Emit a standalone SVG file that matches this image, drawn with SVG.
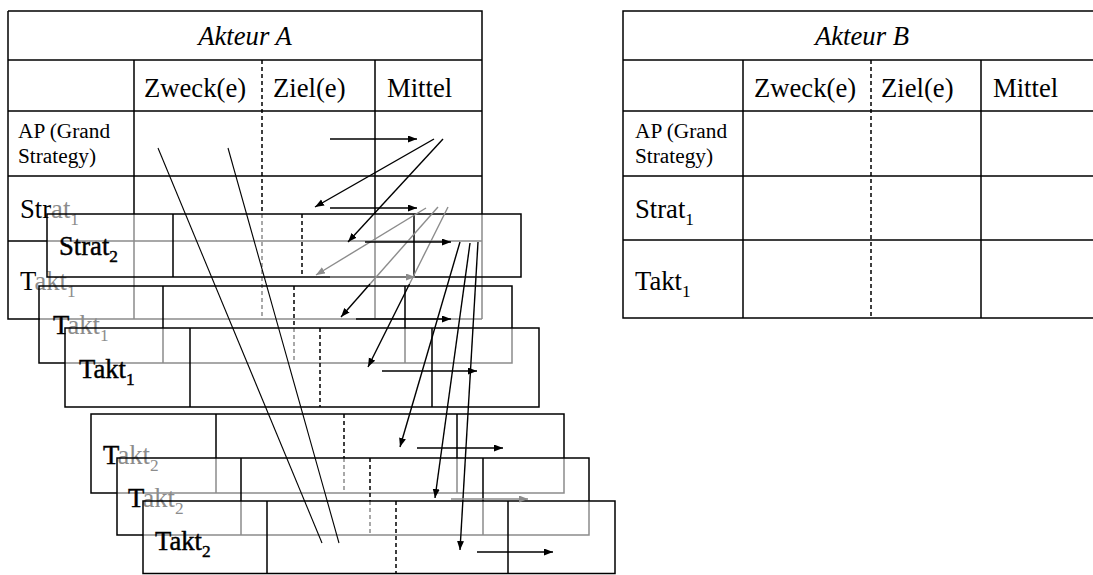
<svg xmlns="http://www.w3.org/2000/svg" width="1093" height="575" viewBox="0 0 1093 575">
  <defs>
    <style>
      .ln { stroke: #000; stroke-width: 1.5; fill: none; }
      .gl { stroke: #8c8c8c; stroke-width: 1.5; fill: none; }
      .dash { stroke-dasharray: 4 3; }
      .t { font-size: 26.67px; fill: #000; }
      .it { font-style: italic; }
      .sm { font-size: 21.3px; }
      .sub { font-size: 17.3px; }
      .bl { stroke: #000; stroke-width: 0.45; }
      .gt { fill: #8c8c8c; stroke: none; }
      .ar { stroke: #000; stroke-width: 1.4; fill: none; }
      .arh { marker-end: url(#head); }
      .ag { stroke: #8c8c8c; stroke-width: 1.4; fill: none; }
      .agh { marker-end: url(#head-grey); }
      .thin { stroke: #000; stroke-width: 1.1; fill: none; }
    </style>
    <marker id="head" markerUnits="userSpaceOnUse" markerWidth="10" markerHeight="8" refX="9" refY="3.5" orient="auto">
      <path d="M0,0L9,3.5L0,7Z" fill="#000"/>
    </marker>
    <marker id="head-grey" markerUnits="userSpaceOnUse" markerWidth="10" markerHeight="8" refX="9" refY="3.5" orient="auto">
      <path d="M0,0L9,3.5L0,7Z" fill="#8c8c8c"/>
    </marker>
  </defs>

  <rect width="1093" height="575" fill="#fff"/>

  <g font-family="'Liberation Serif', 'Times New Roman', serif">
  <!-- Actor A: base table -->
  <g id="akteur-a">
    <path class="ln" d="M8,11H482V214 M8,11V319H40 M8,60H482 M8,111H482 M8,176H482 M8,241H47 M134,60V214 M375,60V214"/>
    <path class="ln dash" d="M262,60V214"/>
    <path class="gl" d="M482,214V319 M40,319H482 M47,241H482 M134,214V319 M375,214V319"/>
    <path class="gl dash" d="M262,214V319"/>
    <text class="t it" x="245" y="45" text-anchor="middle">Akteur A</text>
    <text class="t" x="144" y="97">Zweck(e)</text>
    <text class="t" x="273" y="97">Ziel(e)</text>
    <text class="t" x="387" y="97">Mittel</text>
    <text class="t sm" x="18" y="138">AP (Grand</text>
    <text class="t sm" x="18" y="163">Strategy)</text>
    <text class="t" x="20" y="218">Str<tspan class="gt">at</tspan><tspan class="gt sub" dy="7">1</tspan></text>
    <text class="t" x="20" y="290">T<tspan class="gt">akt</tspan><tspan class="gt sub" dy="7">1</tspan></text>
  </g>

  <!-- Actor B: base table (continues past the right edge) -->
  <g id="akteur-b">
    <path class="ln" d="M1100,11H623V318H1100 M623,60H1100 M623,111H1100 M623,176H1100 M623,240H1100 M743,60V318 M981,60V318"/>
    <path class="ln dash" d="M871,60V318"/>
    <text class="t it" x="862" y="45" text-anchor="middle">Akteur B</text>
    <text class="t" x="754" y="97">Zweck(e)</text>
    <text class="t" x="881" y="97">Ziel(e)</text>
    <text class="t" x="993" y="97">Mittel</text>
    <text class="t sm" x="635" y="138">AP (Grand</text>
    <text class="t sm" x="635" y="163">Strategy)</text>
    <text class="t" x="635" y="218">Strat<tspan class="sub" dy="7">1</tspan></text>
    <text class="t" x="635" y="290">Takt<tspan class="sub" dy="7">1</tspan></text>
  </g>

  <!-- Strat 2 row -->
  <g id="strat-2">
    <path class="ln" d="M47,214H521V277H47Z M173,214V277 M414,214V277"/>
    <path class="ln dash" d="M302,214V277"/>
    <text class="t bl" x="59" y="255">Strat<tspan class="sub" dy="7">2</tspan></text>
  </g>

  <!-- Takt 1 rows -->
  <g id="takt-1a">
    <path class="ln" d="M65,363H39V286H512V328 M163,286V328 M405,286V328"/>
    <path class="ln dash" d="M294,286V328"/>
    <path class="gl" d="M65,363H512V328 M163,328V363 M405,328V363"/>
    <path class="gl dash" d="M294,328V363"/>
    <text class="t bl" x="53" y="334">T<tspan class="gt">akt</tspan><tspan class="gt sub" dy="7">1</tspan></text>
  </g>
  <g id="takt-1b">
    <path class="ln" d="M65,328H539V407H65Z M190,328V407 M432,328V407"/>
    <path class="ln dash" d="M320,328V407"/>
    <text class="t bl" x="79" y="378">Takt<tspan class="sub" dy="7">1</tspan></text>
  </g>

  <!-- Takt 2 rows -->
  <g id="takt-2a">
    <path class="ln" d="M117,493H91V414H564V458 M216,414V458 M457,414V458"/>
    <path class="ln dash" d="M344,414V458"/>
    <path class="gl" d="M117,493H564V458 M216,458V493 M457,458V493"/>
    <path class="gl dash" d="M344,458V493"/>
    <text class="t bl" x="103" y="464">T<tspan class="gt">akt</tspan><tspan class="gt sub" dy="7">2</tspan></text>
  </g>
  <g id="takt-2b">
    <path class="ln" d="M143,535H117V458H589V501 M241,458V501 M483,458V501"/>
    <path class="ln dash" d="M370,458V501"/>
    <path class="gl" d="M143,535H589V501 M241,501V535 M483,501V535"/>
    <path class="gl dash" d="M370,501V535"/>
    <text class="t bl" x="128" y="507">T<tspan class="gt">akt</tspan><tspan class="gt sub" dy="7">2</tspan></text>
  </g>
  <g id="takt-2c">
    <path class="ln" d="M143,501H615V573.5H143Z M267,501V573.5 M508,501V573.5"/>
    <path class="ln dash" d="M396,501V573.5"/>
    <text class="t bl" x="155" y="550">Takt<tspan class="sub" dy="7">2</tspan></text>
  </g>
  </g>

  <!-- connectors -->
  <g id="connectors">
    <path class="thin" d="M158,148L322,543"/>
    <path class="thin" d="M228,148L339,543"/>

    <path class="ar arh" d="M330,139H417"/>
    <path class="ar arh" d="M434,139L315,207"/>
    <path class="ar arh" d="M443,139L348,242"/>
    <path class="ar arh" d="M330,208H417"/>

    <path class="ag agh" d="M426,208L316,275"/>
    <path class="ag" d="M438,207L370,284"/>
    <path class="ar arh" d="M370,284L341,317"/>
    <path class="ag" d="M448,207L409.5,284"/>
    <path class="ar arh" d="M409.5,284L368,367"/>
    <path class="ag agh" d="M330,277H415"/>

    <path class="ar arh" d="M365,242H451"/>
    <path class="ar arh" d="M356,319H451"/>
    <path class="ar arh" d="M382,371H477"/>

    <path class="ar arh" d="M460,242L400,447"/>
    <path class="ar arh" d="M470,243L435,498"/>
    <path class="ar arh" d="M478,242L460,550"/>

    <path class="ar arh" d="M417,448H503"/>
    <path class="ag agh" d="M451,499H528"/>
    <path class="ar arh" d="M477,552H553"/>
  </g>
</svg>
